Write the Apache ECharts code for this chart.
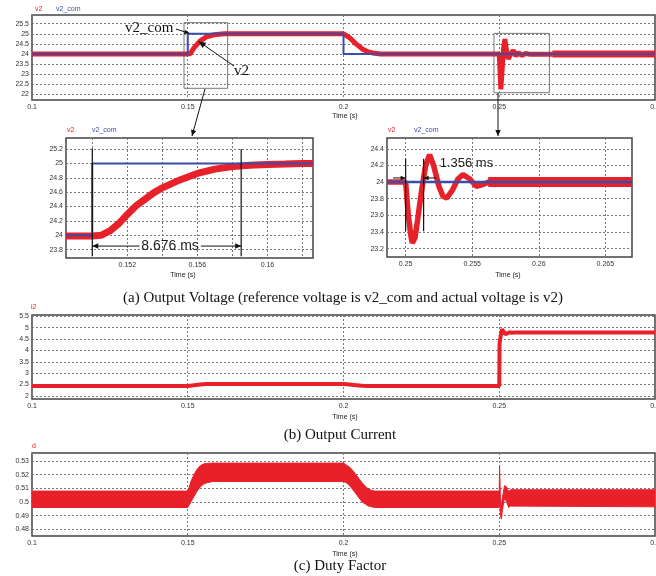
<!DOCTYPE html>
<html><head><meta charset="utf-8">
<script src="https://cdn.jsdelivr.net/npm/echarts@6.0.0/dist/echarts.min.js"></script>
<style>html,body{margin:0;padding:0;background:#fff;overflow:hidden}#c{width:656px;height:576px}</style>
</head><body><div id="c"></div><script>
// ---------- data ----------
// Panel (a) overview: v2 and v2_com
const tA   = [0.1, 0.15, 0.1508, 0.152, 0.154, 0.156, 0.158, 0.16, 0.162, 0.2, 0.202, 0.204, 0.206, 0.208, 0.21, 0.212, 0.25, 0.2502, 0.2505, 0.251, 0.2514, 0.2518, 0.2523, 0.2529, 0.2537, 0.2545, 0.2553, 0.2562, 0.2572, 0.2585, 0.26, 0.267];
const v2A  = [24, 24, 24.02, 24.3, 24.65, 24.85, 24.94, 24.98, 25, 25, 24.8, 24.5, 24.25, 24.1, 24.03, 24, 24, 23.3, 22.25, 23.4, 24.3, 24.73, 24.2, 23.75, 24.0, 24.18, 23.9, 24.06, 23.93, 24.02, 23.98, 23.99];
const tA2  = [0.267, 0.3];           // ripple band after settling
const v2A2 = [24.0, 24.0];
const tComA = [0.1, 0.15, 0.15, 0.2, 0.2, 0.3];
const vComA = [24, 24, 25, 25, 24, 24];
// Panel zoom 1 (step up)
const tB   = [0.1485, 0.15, 0.1505, 0.151, 0.1515, 0.152, 0.1525, 0.153, 0.1535, 0.154, 0.155, 0.156, 0.157, 0.158, 0.159, 0.16, 0.161, 0.162, 0.1626];
const v2B  = [23.99, 23.99, 24.0, 24.06, 24.16, 24.29, 24.41, 24.5, 24.59, 24.66, 24.77, 24.86, 24.92, 24.955, 24.975, 24.985, 24.99, 25.0, 25.0];
const tComB = [0.1485, 0.15, 0.15, 0.1626];
const vComB = [24, 24, 25, 25];
// Panel zoom 2 (load step)
const tC   = [0.2486, 0.25, 0.2502, 0.2504, 0.2505, 0.2507, 0.2509, 0.2512, 0.2515, 0.2518, 0.2521, 0.2525, 0.2528, 0.2531, 0.2535, 0.2539, 0.2543, 0.2548, 0.2553, 0.2558, 0.2565, 0.2572, 0.258];
const v2C  = [24.0, 24.0, 23.6, 23.35, 23.27, 23.33, 23.55, 23.9, 24.2, 24.33, 24.2, 23.95, 23.83, 23.81, 23.9, 24.03, 24.09, 24.04, 23.95, 23.97, 24.02, 24.0, 23.99];
const tC2  = [0.2562, 0.267];        // ripple band after settling
const v2C2 = [24.0, 24.0];
const tComC = [0.2486, 0.267];
const vComC = [24, 24];
// Panel (b) output current i2
const tD   = [0.1, 0.15, 0.152, 0.154, 0.156, 0.2, 0.202, 0.204, 0.206, 0.208, 0.25, 0.2501, 0.2503, 0.2506, 0.2509, 0.2514, 0.252, 0.2526, 0.2533, 0.254, 0.255, 0.3];
const iD   = [2.43, 2.43, 2.47, 2.5, 2.52, 2.52, 2.5, 2.47, 2.44, 2.43, 2.43, 4.3, 4.5, 4.75, 4.93, 4.85, 4.71, 4.78, 4.8, 4.78, 4.79, 4.79];
// Panel (c) duty factor band (lower / upper envelope)
const tE   = [0.1, 0.15, 0.1505, 0.151, 0.152, 0.153, 0.154, 0.155, 0.156, 0.158, 0.2, 0.201, 0.202, 0.203, 0.204, 0.205, 0.206, 0.207, 0.208, 0.209, 0.21, 0.25, 0.2501, 0.2504, 0.2507, 0.251, 0.2517, 0.2524, 0.253, 0.2536, 0.3];
const dLo  = [0.496, 0.496, 0.498, 0.5, 0.504, 0.508, 0.511, 0.513, 0.514, 0.515, 0.515, 0.514, 0.512, 0.509, 0.506, 0.503, 0.5, 0.4985, 0.497, 0.4965, 0.496, 0.496, 0.505, 0.49, 0.4875, 0.494, 0.503, 0.5, 0.496, 0.497, 0.4965];
const dHi  = [0.508, 0.508, 0.511, 0.515, 0.52, 0.524, 0.5265, 0.5278, 0.5283, 0.5285, 0.5285, 0.527, 0.5255, 0.523, 0.52, 0.517, 0.514, 0.5115, 0.5095, 0.5085, 0.508, 0.508, 0.527, 0.5, 0.497, 0.503, 0.512, 0.511, 0.5075, 0.509, 0.509];
// tick labels
const xLabB = [0.152, 0.156, 0.16];
const xGridB = [0.15, 0.152, 0.154, 0.156, 0.158, 0.16, 0.162];
const xLabC = [0.25, 0.255, 0.26, 0.265];
const yTicksA = [22, 22.5, 23, 23.5, 24, 24.5, 25, 25.5];
const yTicksB = [23.8, 24, 24.2, 24.4, 24.6, 24.8, 25, 25.2];
const yTicksC = [23.2, 23.4, 23.6, 23.8, 24, 24.2, 24.4];
const yTicksD = [2, 2.5, 3, 3.5, 4, 4.5, 5, 5.5];
const yTicksE = [0.48, 0.49, 0.5, 0.51, 0.52, 0.53];

// ---------- chart ----------
const RED = '#e8202a', BLUE = '#3a4ea8';
const zip = (xs, ys) => xs.map((x, i) => [x, ys[i]]);
const fmt = v => String(+(+v).toFixed(4));
const lab = {fontSize: 7, color: '#333', fontFamily: 'Liberation Sans, Arial', formatter: fmt};
const split = {show: true, lineStyle: {color: '#777', type: [2, 2], width: 1}};

function xAxis(gi, min, max, labels, grid, interval) {
  const a = {type: 'value', gridIndex: gi, min, max, axisLine: {show: false},
    axisLabel: Object.assign({margin: 4}, lab), splitLine: split};
  if (interval) { a.interval = interval; a.axisTick = {show: false}; }
  else { a.axisLabel.customValues = labels; a.axisTick = {show: false, customValues: grid}; }
  return a;
}
function yAxis(gi, min, max, ticks) {
  return {type: 'value', gridIndex: gi, min, max, axisLine: {show: false},
    axisTick: {show: false, customValues: ticks},
    axisLabel: Object.assign({margin: 3, customValues: ticks}, lab), splitLine: split};
}
const gridStyle = {show: true, borderColor: '#444', borderWidth: 1.5, backgroundColor: '#fff', containLabel: false, outerBoundsMode: 'none'};

const chart = echarts.init(document.getElementById('c'), null, {renderer: 'canvas'});
const line = (name, gi, data, color, width, z) => ({name, type: 'line', xAxisIndex: gi, yAxisIndex: gi,
  data, showSymbol: false, symbol: 'none', lineStyle: {color, width, cap: 'butt'}, z: z || 2, animation: false});

const sA = line('v2', 0, zip(tA, v2A), RED, 5, 2);
sA.markArea = {silent: true, itemStyle: {color: 'rgba(0,0,0,0)', borderColor: '#777', borderWidth: 1},
  data: [[{coord: [0.1488, 25.55]}, {coord: [0.1628, 22.3]}], [{coord: [0.2483, 25.02]}, {coord: [0.2661, 22.08]}]]};

const band = {
  name: 'd', type: 'custom', xAxisIndex: 4, yAxisIndex: 4, data: [[0.2, 0.5]], encode: {x: 0, y: 1}, clip: true, z: 2,
  renderItem: (params, api) => {
    const up = tE.map((t, i) => api.coord([t, dHi[i]]));
    const lo = tE.map((t, i) => api.coord([t, dLo[i]])).reverse();
    return {type: 'polygon', shape: {points: up.concat(lo)}, style: {fill: RED, stroke: RED, lineWidth: 1}};
  }
};

chart.setOption({
  animation: false,
  grid: [
    Object.assign({left: 32, right: 1, top: 15, height: 85}, gridStyle),
    Object.assign({left: 66, width: 247, top: 138, height: 120}, gridStyle),
    Object.assign({left: 387, width: 245, top: 138, height: 119}, gridStyle),
    Object.assign({left: 32, right: 1, top: 315, height: 84}, gridStyle),
    Object.assign({left: 32, right: 1, top: 453, height: 83}, gridStyle)
  ],
  xAxis: [
    xAxis(0, 0.1, 0.3, null, null, 0.05),
    xAxis(1, 0.1485, 0.1626, xLabB, xGridB),
    xAxis(2, 0.2486, 0.267, xLabC, xLabC),
    xAxis(3, 0.1, 0.3, null, null, 0.05),
    xAxis(4, 0.1, 0.3, null, null, 0.05)
  ],
  yAxis: [
    yAxis(0, 21.72, 25.93, yTicksA),
    yAxis(1, 23.684, 25.353, yTicksB),
    yAxis(2, 23.1, 24.53, yTicksC),
    yAxis(3, 1.86, 5.56, yTicksD),
    yAxis(4, 0.4751, 0.5359, yTicksE)
  ],
  series: [
    sA,
    line('v2', 0, zip(tA2, v2A2), RED, 7, 2),
    line('v2_com', 0, zip(tComA, vComA), BLUE, 2, 3),
    line('v2', 1, zip(tB, v2B), RED, 7, 2),
    line('v2_com', 1, zip(tComB, vComB), BLUE, 2, 3),
    line('v2', 2, zip(tC, v2C), RED, 5.5, 2),
    line('v2', 2, zip(tC2, v2C2), RED, 10, 2),
    line('v2_com', 2, zip(tComC, vComC), BLUE, 2.5, 3),
    line('i2', 3, zip(tD, iD), RED, 4, 2),
    band
  ]
});

// ---------- annotations ----------
const P = (gi, x, y) => chart.convertToPixel({gridIndex: gi}, [x, y]);
const G = [];
function seg(a, b, w) { G.push({type: 'line', shape: {x1: a[0], y1: a[1], x2: b[0], y2: b[1]}, style: {stroke: '#111', lineWidth: w || 1}, z: 100}); }
function head(a, b, s) {
  const ang = Math.atan2(b[1] - a[1], b[0] - a[0]), c = Math.cos(ang), sn = Math.sin(ang), w = s * 0.45;
  G.push({type: 'polygon', shape: {points: [[b[0], b[1]], [b[0] - s * c + w * sn, b[1] - s * sn - w * c], [b[0] - s * c - w * sn, b[1] - s * sn + w * c]]}, style: {fill: '#111'}, z: 101});
}
function arrow(a, b, s, w) { seg(a, b, w); head(a, b, s || 6); }
function txt(x, y, text, o) {
  G.push({type: 'text', x, y, z: 102, style: Object.assign({text, fill: '#222', font: '7px Liberation Sans', align: 'left', verticalAlign: 'middle'}, o || {})});
}
// legends
txt(35, 9, 'v2', {fill: RED}); txt(56, 9, 'v2_com', {fill: BLUE});
txt(67, 130, 'v2', {fill: RED}); txt(92, 130, 'v2_com', {fill: BLUE});
txt(388, 130, 'v2', {fill: RED}); txt(414, 130, 'v2_com', {fill: BLUE});
txt(31, 307, 'i2', {fill: RED});
txt(32, 446, 'd', {fill: RED});
// Time (s)
txt(345, 116, 'Time (s)', {align: 'center'});
txt(183, 275, 'Time (s)', {align: 'center'});
txt(508, 275, 'Time (s)', {align: 'center'});
txt(345, 417, 'Time (s)', {align: 'center'});
txt(345, 554, 'Time (s)', {align: 'center'});
// captions
const cap = {align: 'center', font: '15px Liberation Serif', fill: '#111'};
txt(343, 298, '(a) Output Voltage (reference voltage is v2_com and actual voltage is v2)', cap);
txt(340, 435, '(b) Output Current', cap);
txt(340, 566, '(c) Duty Factor', cap);
// panel (a) labels
txt(125, 28, 'v2_com', {font: '15px Liberation Serif', fill: '#111'});
arrow([176, 29], P(0, 0.1505, 25.02), 5);
txt(234, 71, 'v2', {font: '15px Liberation Serif', fill: '#111'});
arrow([234, 66], P(0, 0.1535, 24.62), 7);
// zoom connectors
arrow([205, 89], [192, 136], 6);
arrow([498, 93], [498, 136], 6);
// zoom 1 markers
seg(P(1, 0.15, 25.21), P(1, 0.15, 23.71), 1.2);
seg(P(1, 0.1585, 25.2), P(1, 0.1585, 23.71), 1.2);
arrow(P(1, 0.1527, 23.85), P(1, 0.15, 23.85), 6);
arrow(P(1, 0.1562, 23.85), P(1, 0.1585, 23.85), 6);
const tp = P(1, 0.15444, 23.85);
txt(tp[0], tp[1], '8.676 ms', {align: 'center', font: '14px Liberation Sans', fill: '#222'});
// zoom 2 markers
seg(P(2, 0.25, 24.28), P(2, 0.25, 23.41), 1.2);
seg(P(2, 0.25135, 24.28), P(2, 0.25135, 23.41), 1.2);
arrow(P(2, 0.24905, 24.05), P(2, 0.25, 24.05), 5);
arrow(P(2, 0.2523, 24.05), P(2, 0.25135, 24.05), 5);
const tq = P(2, 0.25256, 24.23);
txt(tq[0], tq[1], '1.356 ms', {align: 'left', font: '13px Liberation Sans', fill: '#222'});

chart.setOption({graphic: G});
</script></body></html>
